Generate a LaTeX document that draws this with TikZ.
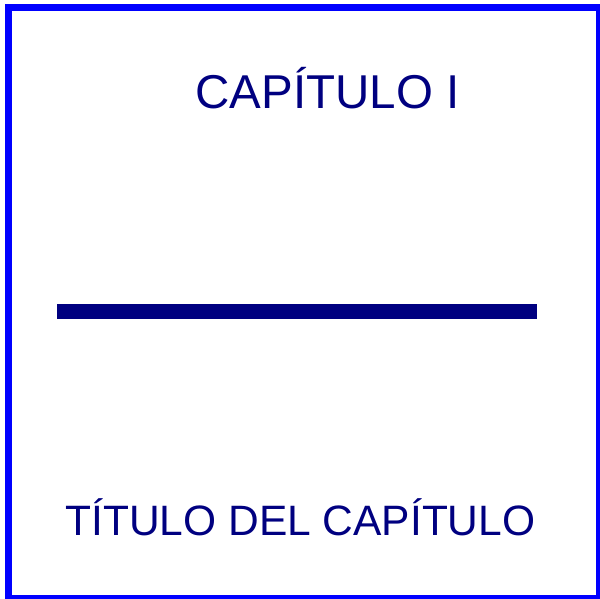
\documentclass[tikz,border=0pt]{standalone}
\usepackage{fontspec}
\setmainfont{Liberation Sans}
\definecolor{chapnavy}{HTML}{000080}
\tikzset{
  chap text/.style={text=chapnavy, font=\fontsize{47.5}{57}\selectfont, inner sep=0pt, anchor=base},
  title text/.style={chap text, font=\fontsize{42.5}{51}\selectfont},
  chap rule/.style={draw=chapnavy, line width=15pt},
  chap frame/.style={draw=blue, line width=7pt},
}
\begin{document}
\begin{tikzpicture}[x=1pt,y=-1pt]
\def\ruleY{311}
%%%page
\useasboundingbox (0,0) rectangle (600,599);
\clip (0,0) rectangle (600,599);
\draw[chap frame] (8.5,7.5) rectangle (599.5,598.5);

%%%heading
\node[chap text] (chapnum) at (327.5,109) {CAPÍTULO I};

%%%rule
\coordinate (ruleleft) at (57,\ruleY);
\coordinate (ruleright) at (537,\ruleY);
\draw[chap rule] (ruleleft) -- (ruleright);

%%%title
\node[title text] (chaptitle) at (300.4,535) {TÍTULO DEL CAPÍTULO};
\end{tikzpicture}
\end{document}
